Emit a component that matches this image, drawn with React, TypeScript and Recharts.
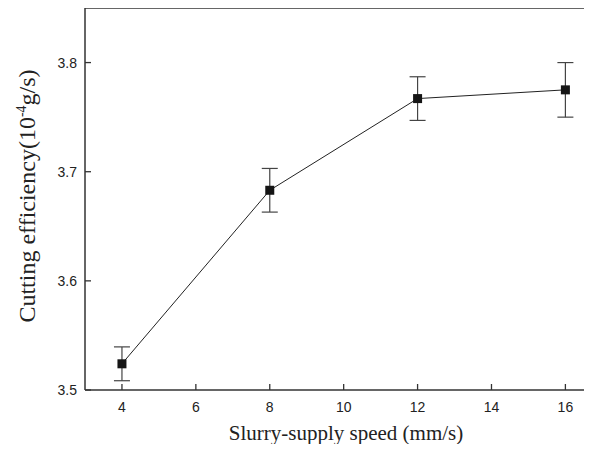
import React from 'react';
import { LineChart, Line, XAxis, YAxis, ErrorBar, ReferenceLine, Customized } from 'recharts';

const speeds = [4, 8, 12, 16];
const efficiency = [3.524, 3.683, 3.767, 3.775];
const errors = [0.0155, 0.02, 0.02, 0.025];
const xTicks = [4, 6, 8, 10, 12, 14, 16];
const yTicks = [3.5, 3.6, 3.7, 3.8];

const data = speeds.map((s, i) => ({ x: s, y: efficiency[i], err: errors[i] }));

const AXIS = '#333';
const SANS = '"Liberation Sans", Arial, sans-serif';
const SERIF = '"Liberation Serif", "Times New Roman", serif';

const XTick = (props: any) => {
  const { x, y, payload } = props;
  return (
    <g>
      <line x1={x} x2={x} y1={y} y2={y - 6} stroke={AXIS} strokeWidth={1.3} />
      <text x={x} y={y + 22} textAnchor="middle" fontFamily={SANS} fontSize={14} fill="#222">
        {payload.value}
      </text>
    </g>
  );
};

const YTick = (props: any) => {
  const { x, y, payload } = props;
  return (
    <g>
      <line x1={x} x2={x + 6} y1={y} y2={y} stroke={AXIS} strokeWidth={1.3} />
      <text x={x - 8} y={y + 5} textAnchor="end" fontFamily={SANS} fontSize={14} fill="#222">
        {Number(payload.value).toFixed(1)}
      </text>
    </g>
  );
};

const SquareDot = (props: any) => {
  const { cx, cy, index } = props;
  if (cx == null || cy == null) return null;
  return <rect key={`d${index}`} x={cx - 4.5} y={cy - 4.5} width={9} height={9} fill="#151515" />;
};

const Titles = () => (
  <g>
    <text x={346} y={440} textAnchor="middle" fontFamily={SERIF} fontSize={21} fill="#222">
      Slurry-supply speed (mm/s)
    </text>
    <text
      transform="translate(35,196) rotate(-90)"
      x={0}
      y={0}
      textAnchor="middle"
      fontFamily={SERIF}
      fontSize={24}
      fill="#222"
    >
      Cutting efficiency(10
      <tspan dy={-9} fontSize={14}>-4</tspan>
      <tspan dy={9}>g/s)</tspan>
    </text>
  </g>
);

export default function App() {
  return (
    <div style={{ margin: -8, width: 592, height: 452, background: '#fff' }}>
      <LineChart width={592} height={452} data={data} margin={{ top: 8, right: 0, bottom: 0, left: 0 }}>
        <XAxis
          dataKey="x"
          type="number"
          domain={[3, 16.72]}
          allowDataOverflow
          ticks={xTicks}
          interval={0}
          height={62}
          tickSize={0}
          tickMargin={0}
          tickLine={false}
          tick={<XTick />}
          axisLine={{ stroke: AXIS, strokeWidth: 1.5 }}
        />
        <YAxis
          type="number"
          domain={[3.5, 3.85]}
          allowDataOverflow
          ticks={yTicks}
          interval={0}
          width={85}
          tickSize={0}
          tickMargin={0}
          tickLine={false}
          tick={<YTick />}
          axisLine={{ stroke: AXIS, strokeWidth: 1.5 }}
        />
        <ReferenceLine y={3.85} stroke={AXIS} strokeWidth={1.5} ifOverflow="extendDomain" />
        <Line
          dataKey="y"
          stroke="#222"
          strokeWidth={1}
          dot={<SquareDot />}
          activeDot={false}
          isAnimationActive={false}
        >
          <ErrorBar dataKey="err" direction="y" width={8} stroke="#444" strokeWidth={1.2} />
        </Line>
        <Customized component={<Titles />} />
      </LineChart>
    </div>
  );
}
